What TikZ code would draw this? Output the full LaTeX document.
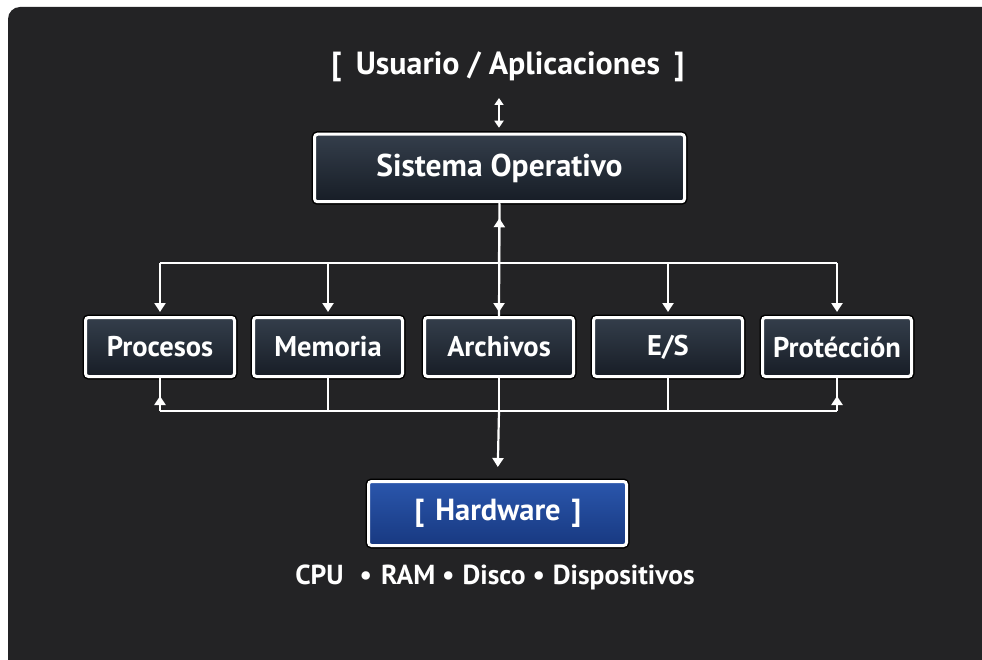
\documentclass[tikz,border=0pt]{standalone}
\usepackage{fontspec}
\setmainfont{PT Sans}
\usetikzlibrary{arrows.meta}
\definecolor{bg}{HTML}{232325}
\definecolor{boxtop}{HTML}{343E4B}
\definecolor{boxbot}{HTML}{171D26}
\definecolor{hwtop}{HTML}{2A56AC}
\definecolor{hwbot}{HTML}{183981}
\tikzset{
  basebox/.style={draw=white, line width=3pt, rounded corners=3pt,
    preaction={draw=black, line width=6pt, rounded corners=3pt},
    text=white, inner sep=0pt},
  modbox/.style={basebox, top color=boxtop, bottom color=boxbot,
    minimum width=149pt, minimum height=59pt,
    font=\bfseries\fontsize{28.5}{32}\selectfont},
  sobox/.style={basebox, top color=boxtop, bottom color=boxbot,
    minimum width=370pt, minimum height=67.5pt,
    font=\bfseries\fontsize{31.5}{36}\selectfont},
  hwbox/.style={basebox, top color=hwtop, bottom color=hwbot,
    minimum width=258pt, minimum height=64pt,
    font=\bfseries\fontsize{30.5}{34}\selectfont},
  titletext/.style={text=white, inner sep=0pt, font=\bfseries\fontsize{32}{36}\selectfont},
  subtext/.style={text=white, inner sep=0pt, font=\bfseries\fontsize{27.5}{32}\selectfont},
  conn/.style={draw=white, line width=2.2pt},
  tip/.style={-{Triangle[width=11pt,length=9pt]}},
  smalltips/.style={{Triangle[width=9pt,length=7pt]}-{Triangle[width=9pt,length=7pt]}},
}
\begin{document}
\begin{tikzpicture}[x=1pt,y=-1pt]
\useasboundingbox (0,0) rectangle (982,660);
\clip (0,0) rectangle (982,660);
\fill[white] (0,0) rectangle (982,660);
\fill[bg, rounded corners=12pt] (8,7) rectangle (1000,680);

\node[titletext] (user) at (508,67) {[\hspace{6pt} Usuario / Aplicaciones\hspace{6pt} ]};
\node[sobox] (so) at (499.5,168) {Sistema Operativo};
\node[modbox] (p) at (160,347) {Procesos};
\node[modbox] (m) at (328,347) {Memoria};
\node[modbox] (a) at (499,347) {Archivos};
\node[modbox] (e) at (668,347) {E/S};
\node[modbox] (pr) at (837,347) {Protécción};
\node[hwbox] (hw) at (497.5,513.5) {\hspace{1pt}[\hspace{3pt} Hardware\hspace{3pt} ]};
\node[subtext] (res) at (495,577) {CPU\hspace{9pt} •\hspace{2pt} RAM •\hspace{1pt} Disco •\hspace{1pt} Dispositivos};

\coordinate (ua) at (499,98);
\coordinate (bl) at (160,263);
\coordinate (br) at (837,263);
\coordinate (bbl) at (160,411);
\coordinate (bbr) at (837,411);

% user <-> SO
\draw[conn, smalltips, shorten >=5pt] (ua) -- (so.north -| ua);

% SO to archivos and top bus
\draw[conn] (so.south) -- (a.north);
\draw[conn, tip, shorten >=15pt] (a.north |- bl) -- (so.south);
\draw[conn] (bl) -- (br);
\foreach \n in {p,m,a,e,pr}{
  \draw[conn, tip, shorten >=4pt] (\n.north |- bl) -- (\n.north);
}

% bottom bus
\draw[conn] (bbl) -- (bbr);
\foreach \n in {p,m,a,e,pr}{
  \draw[conn] (\n.south) -- (\n.south |- bbl);
}
\draw[conn, tip] (p.south |- bbl) -- ++(0,-15);
\draw[conn, tip] (pr.south |- bbl) -- ++(0,-15);
\draw[conn, tip, shorten >=13pt] (a.south |- bbl) -- (hw.north);
\end{tikzpicture}
\end{document}
